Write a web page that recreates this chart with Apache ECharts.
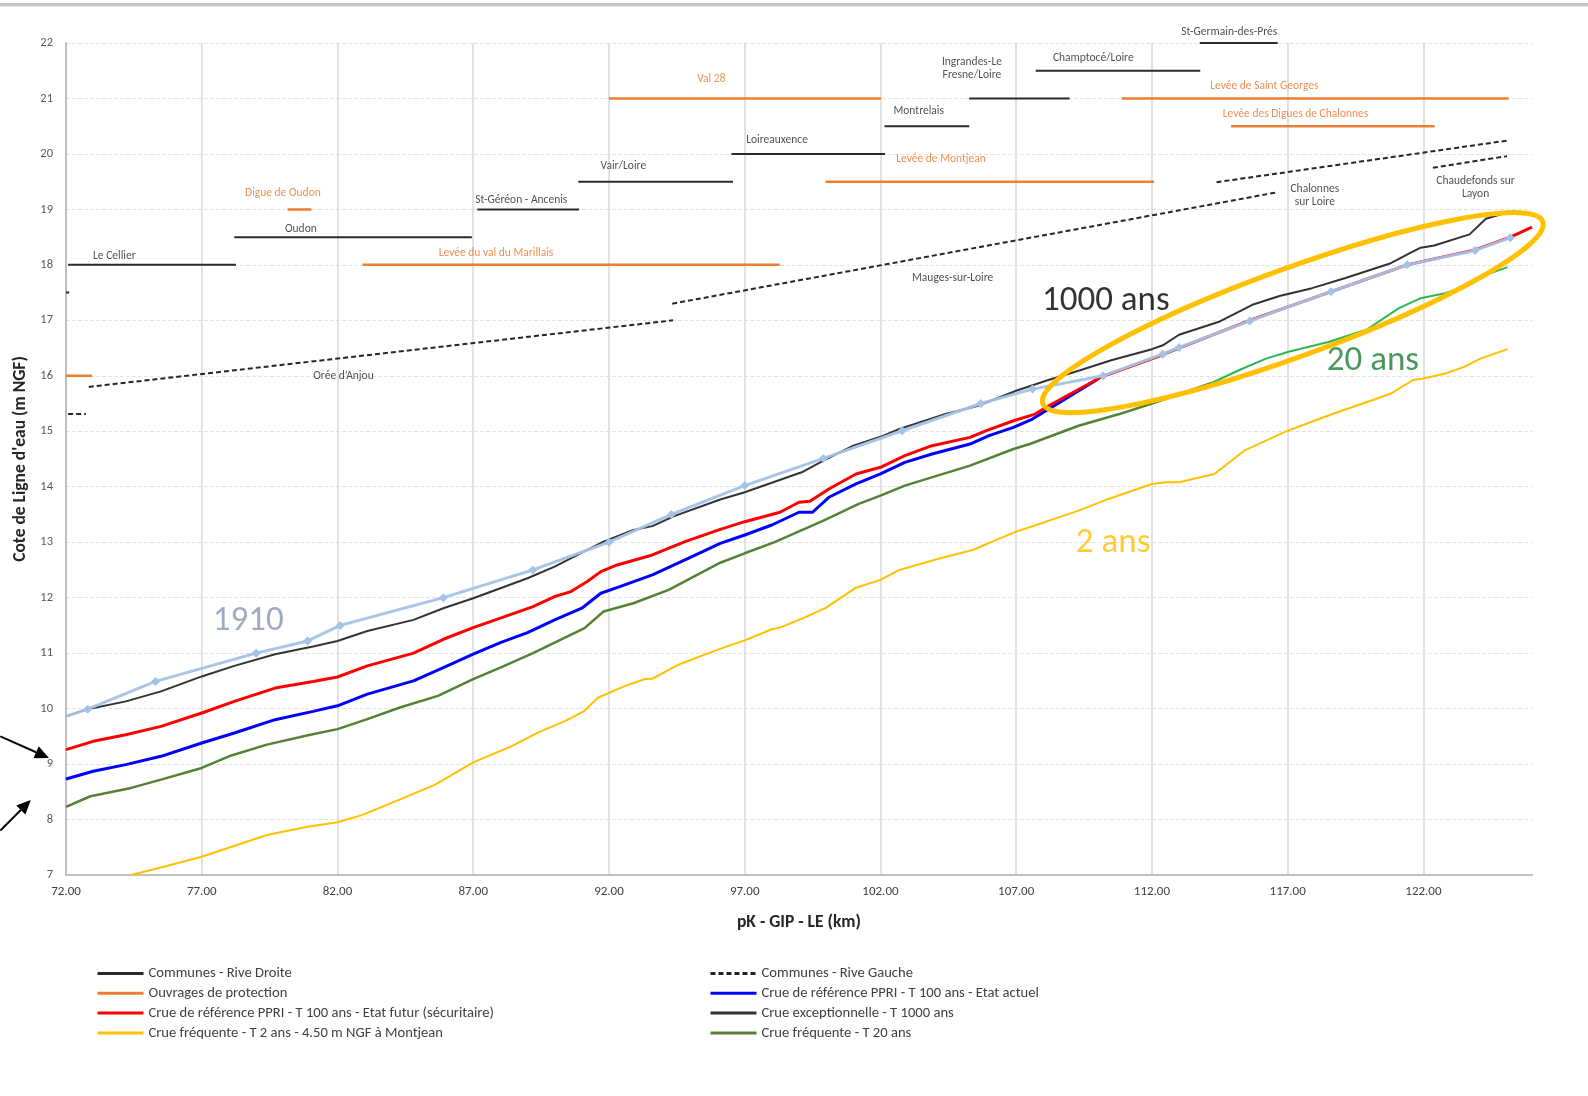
<!DOCTYPE html>
<html><head><meta charset="utf-8">
<script src="https://cdn.jsdelivr.net/npm/echarts@6/dist/echarts.min.js"></script>
<style>html,body{margin:0;padding:0;background:#fff}#c{width:1588px;height:1096px}</style>
</head><body><div id="c"></div>
<script>
const FONT = "Carlito, Lato, 'Open Sans', sans-serif";

// ---------- axes ----------
const xMin = 72, xMax = 126, xStep = 5;
const yMin = 7, yMax = 22, yStep = 1;
const xTitle = "pK - GIP - LE (km)";
const yTitle = "Cote de Ligne d'eau (m NGF)";

// ---------- legend names ----------
const N_RD = "Communes - Rive Droite";
const N_RG = "Communes - Rive Gauche";
const N_OUV = "Ouvrages de protection";
const N_ACT = "Crue de référence PPRI - T 100 ans - Etat actuel";
const N_FUT = "Crue de référence PPRI - T 100 ans - Etat futur (sécuritaire)";
const N_T1000 = "Crue exceptionnelle - T 1000 ans";
const N_T2 = "Crue fréquente - T 2 ans - 4.50 m NGF à Montjean";
const N_T20 = "Crue fréquente - T 20 ans";

// ---------- water lines [km, m NGF] ----------
const t1000 = [[72.0,9.86],[72.8,9.99],[74.2,10.13],[75.5,10.31],[77.0,10.58],[78.2,10.77],[79.7,10.98],[81.1,11.12],[82.0,11.22],[83.1,11.40],[84.8,11.60],[85.9,11.81],[87.0,11.99],[88.0,12.17],[89.0,12.35],[90.0,12.56],[91.2,12.86],[91.8,13.01],[92.9,13.22],[93.6,13.29],[94.4,13.47],[96.1,13.77],[97.0,13.90],[99.1,14.26],[99.9,14.47],[101.0,14.74],[102.0,14.90],[102.7,15.04],[104.4,15.31],[105.6,15.46],[107.0,15.73],[108.1,15.91],[109.3,16.09],[110.5,16.28],[112.0,16.48],[112.4,16.55],[113.0,16.74],[114.5,16.98],[115.7,17.28],[116.7,17.44],[117.9,17.58],[119.1,17.76],[120.8,18.03],[121.5,18.21],[121.9,18.31],[122.4,18.35],[123.7,18.55],[124.3,18.83],[125.1,18.95]];
const t100Futur = [[72.0,9.26],[73.0,9.41],[74.2,9.53],[75.5,9.68],[77.0,9.92],[78.2,10.13],[79.7,10.37],[81.1,10.49],[82.0,10.57],[83.1,10.77],[84.8,11.00],[85.9,11.25],[87.0,11.46],[88.0,11.63],[89.2,11.84],[90.0,12.02],[90.6,12.11],[91.2,12.29],[91.7,12.47],[92.3,12.59],[93.6,12.77],[94.8,13.01],[96.1,13.23],[97.0,13.37],[98.3,13.54],[99.0,13.72],[99.4,13.74],[100.1,13.96],[101.1,14.23],[102.0,14.35],[102.9,14.56],[103.9,14.74],[105.3,14.89],[105.9,15.01],[106.9,15.19],[107.7,15.31],[108.2,15.46],[110.1,15.97],[112.4,16.38],[113.0,16.50],[115.6,17.00],[118.5,17.50],[121.4,18.00],[123.9,18.27],[125.2,18.50],[126.0,18.68]];
const t100Actuel = [[72.0,8.73],[73.0,8.87],[74.2,8.99],[75.5,9.14],[77.0,9.38],[78.2,9.56],[79.7,9.80],[81.1,9.95],[82.0,10.05],[83.1,10.26],[84.8,10.50],[85.9,10.74],[87.0,10.98],[88.0,11.19],[89.0,11.37],[90.0,11.60],[91.0,11.81],[91.7,12.08],[92.4,12.20],[93.6,12.41],[94.8,12.68],[96.1,12.98],[97.0,13.13],[98.0,13.31],[99.0,13.54],[99.5,13.54],[100.1,13.81],[101.1,14.05],[102.0,14.23],[102.9,14.44],[103.9,14.59],[105.3,14.77],[106.0,14.92],[106.9,15.07],[107.6,15.22],[108.1,15.37],[110.0,15.94]];
const t20 = [[72.0,8.23],[72.9,8.42],[74.4,8.57],[75.5,8.72],[77.0,8.93],[78.0,9.14],[79.4,9.35],[81.0,9.53],[82.0,9.63],[83.1,9.81],[84.3,10.02],[85.7,10.23],[87.0,10.53],[88.0,10.74],[89.2,11.00],[90.0,11.19],[91.1,11.45],[91.8,11.75],[92.9,11.90],[94.2,12.14],[96.1,12.63],[97.0,12.80],[98.1,13.00],[99.9,13.39],[101.2,13.69],[102.0,13.84],[102.9,14.02],[105.3,14.38],[106.9,14.68],[107.5,14.77],[109.3,15.10],[110.8,15.31],[112.0,15.50],[114.2,15.87]];
const t20Aval = [[114.2,15.87],[115.2,16.10],[116.2,16.31],[117.0,16.43],[118.5,16.61],[119.9,16.83],[121.1,17.22],[121.9,17.40],[122.8,17.49],[123.7,17.64],[124.3,17.82],[125.1,17.96]];
const t2 = [[74.4,7.00],[75.6,7.15],[77.0,7.33],[78.1,7.51],[79.4,7.72],[80.9,7.87],[82.0,7.95],[82.9,8.08],[84.0,8.30],[85.6,8.63],[87.0,9.03],[88.4,9.32],[89.4,9.57],[90.4,9.78],[91.1,9.96],[91.6,10.20],[92.6,10.41],[93.3,10.53],[93.6,10.54],[94.6,10.80],[95.4,10.95],[96.4,11.13],[97.0,11.23],[98.0,11.43],[98.3,11.46],[99.2,11.64],[100.0,11.82],[101.1,12.18],[102.0,12.32],[102.7,12.50],[104.2,12.71],[105.4,12.86],[106.4,13.07],[107.0,13.19],[108.1,13.37],[109.3,13.57],[110.4,13.78],[112.0,14.05],[112.5,14.08],[113.0,14.08],[114.3,14.23],[115.4,14.65],[117.0,15.01],[118.7,15.32],[120.3,15.59],[120.8,15.68],[121.6,15.92],[122.0,15.95],[122.8,16.04],[123.5,16.16],[124.1,16.31],[125.1,16.48]];
const crue1910 = [[72.0,9.86],[72.8,9.99],[75.3,10.49],[79.0,11.00],[80.9,11.22],[82.1,11.50],[85.9,12.00],[89.2,12.50],[92.0,13.00],[94.3,13.50],[97.0,14.02],[99.9,14.51],[102.8,15.01],[105.7,15.50],[107.6,15.76],[110.2,16.00],[112.4,16.39],[113.0,16.51],[115.6,16.99],[118.6,17.52],[121.4,18.00],[123.9,18.26],[125.2,18.49]];

// ---------- horizontal segments [kmStart, kmEnd, level] ----------
const rdSegments = [[72.0,72.12,17.5],[72.08,78.26,18.0],[78.2,86.95,18.5],[87.15,90.9,19.0],[90.87,96.57,19.5],[96.51,102.17,20.0],[102.15,105.27,20.5],[105.27,108.97,21.0],[107.72,113.78,21.5],[113.76,116.63,22.0]];
const ouvSegments = [[72.0,72.96,16.0],[80.16,81.04,19.0],[82.92,98.29,18.0],[92.0,102.02,21.0],[99.98,112.08,19.5],[110.89,125.14,21.0],[114.91,122.41,20.5]];
// rive gauche sloped dashes [[km, z], [km, z]]
const rgSegments = [[[72.08,15.31],[72.73,15.31]],[[72.84,15.80],[94.36,17.00]],[[94.33,17.30],[116.63,19.31]],[[114.38,19.49],[125.08,20.24]],[[122.35,19.75],[125.08,19.96]]];

// ---------- place labels [km, z, text] ----------
const communeLabels = [[73.78,18.16,"Le Cellier"],[80.65,18.65,"Oudon"],[88.77,19.16,"St-Géréon - Ancenis"],[92.53,19.78,"Vair/Loire"],[98.19,20.24,"Loireauxence"],[103.41,20.78,"Montrelais"],[105.37,21.54,"Ingrandes-Le\nFresne/Loire"],[109.84,21.73,"Champtocé/Loire"],[114.85,22.19,"St-Germain-des-Prés"],[82.22,16.0,"Orée d’Anjou"],[104.66,17.76,"Mauges-sur-Loire"],[118.0,19.24,"Chalonnes\nsur Loire"],[123.92,19.39,"Chaudefonds sur\nLayon"]];
const ouvrageLabels = [[79.99,19.3,"Digue de Oudon"],[87.84,18.22,"Levée du val du Marillais"],[95.77,21.34,"Val 28"],[104.23,19.9,"Levée de Montjean"],[116.14,21.22,"Levée de Saint Georges"],[117.29,20.71,"Levée des Digues de Chalonnes"]];
const bigLabels = [[78.71,11.58,"1910"],[110.3,17.34,"1000 ans"],[120.14,16.27,"20 ans"],[110.57,12.98,"2 ans"]];
const bigLabelColors = ["#8497b0","#000000","#1b7d34","#ffc000"];

// ---------- builders ----------
function segData(list){ const o=[]; list.forEach(s=>{o.push([s[0],s[2]],[s[1],s[2]],[s[1],'-']);}); return o; }
function lineData(list){ const o=[]; list.forEach(s=>{o.push(s[0],s[1],[s[1][0],'-']);}); return o; }
function labelData(list){ return list.map(l=>({value:[l[0],l[1]], name:l[2]})); }

const chart = echarts.init(document.getElementById('c'), null, {renderer:'canvas'});
const lbl = (color,size)=>({show:true, position:'inside', formatter:'{b}', color:color, fontSize:size, fontFamily:FONT, lineHeight:Math.round(size*1.15)});
const legendBase = {orient:'vertical', top:966, padding:0, itemGap:4.8, itemWidth:46, itemHeight:14,
  itemStyle:{opacity:0, borderWidth:0},
  lineStyle:{width:3},
  textStyle:{fontFamily:FONT, fontSize:14.6, color:'#404040', lineHeight:15}};

const option = {
  animation:false,
  backgroundColor:'#ffffff',
  grid:{left:66, right:56, top:43, bottom:221, containLabel:false},
  xAxis:{type:'value', min:xMin, max:xMax, interval:xStep,
    name:xTitle, nameLocation:'middle', nameGap:39,
    nameTextStyle:{fontFamily:FONT, fontSize:17.5, fontWeight:'bold', color:'#262626'},
    axisLine:{show:true, lineStyle:{color:'#bfbfbf', width:2}},
    axisTick:{show:false},
    axisLabel:{formatter:v=>v.toFixed(2), fontFamily:FONT, fontSize:13, color:'#404040', margin:10, showMaxLabel:false},
    splitLine:{show:true, showMaxLine:false, lineStyle:{color:'#d9d9d9', width:1.5}}},
  yAxis:{type:'value', min:yMin, max:yMax, interval:yStep,
    name:yTitle, nameLocation:'middle', nameGap:36, nameRotate:90,
    nameTextStyle:{fontFamily:FONT, fontSize:17.5, fontWeight:'bold', color:'#262626'},
    axisLine:{show:true, lineStyle:{color:'#bfbfbf', width:2}},
    axisTick:{show:false},
    axisLabel:{fontFamily:FONT, fontSize:12.5, color:'#595959', margin:13},
    splitLine:{show:true, lineStyle:{color:'#e3e3e3', width:1, type:[4,2]}}},
  legend:[
    Object.assign({left:96, data:[N_RD, N_OUV, N_FUT, N_T2]}, legendBase),
    Object.assign({left:709, data:[N_RG, N_ACT, N_T1000, N_T20]}, legendBase)
  ],
  series:[
    {name:N_RG, type:'line', data:lineData(rgSegments), symbol:'none', clip:false,
     lineStyle:{color:'#262626', width:2, type:[5,3]}, itemStyle:{color:'#262626'}},
    {name:N_RD, type:'line', data:segData(rdSegments), symbol:'none', clip:false,
     lineStyle:{color:'#2b2b2b', width:2}, itemStyle:{color:'#2b2b2b'}},
    {name:N_OUV, type:'line', data:segData(ouvSegments), symbol:'none', clip:false,
     lineStyle:{color:'#ed7d31', width:2.5}, itemStyle:{color:'#ed7d31'}},
    {name:N_T2, type:'line', data:t2, symbol:'none',
     lineStyle:{color:'#ffc000', width:2}, itemStyle:{color:'#ffc000'}},
    {name:N_T20, type:'line', data:t20, symbol:'none',
     lineStyle:{color:'#548235', width:2.5}, itemStyle:{color:'#548235'}},
    {name:'T20 aval', type:'line', data:t20Aval, symbol:'none',
     lineStyle:{color:'#2fb550', width:2}, itemStyle:{color:'#2fb550'}},
    {name:N_ACT, type:'line', data:t100Actuel, symbol:'none',
     lineStyle:{color:'#0000ff', width:3}, itemStyle:{color:'#0000ff'}},
    {name:N_FUT, type:'line', data:t100Futur, symbol:'none',
     lineStyle:{color:'#ff0000', width:3}, itemStyle:{color:'#ff0000'}},
    {name:N_T1000, type:'line', data:t1000, symbol:'none',
     lineStyle:{color:'#333333', width:2}, itemStyle:{color:'#333333'}},
    {name:'1910', type:'line', data:crue1910.map((p,i)=> i===0 ? {value:p, symbol:'none'} : p),
     symbol:'diamond', symbolSize:9, showSymbol:true,
     lineStyle:{color:'#a3c2e6', width:3, opacity:0.95}, itemStyle:{color:'#a3c2e6'}},
    {name:'lbl-communes', type:'scatter', data:labelData(communeLabels), symbolSize:1, clip:false,
     itemStyle:{color:'rgba(0,0,0,0)'}, label:lbl('#262626',11.5), silent:true},
    {name:'lbl-ouvrages', type:'scatter', data:labelData(ouvrageLabels), symbolSize:1, clip:false,
     itemStyle:{color:'rgba(0,0,0,0)'}, label:lbl('#e8722a',11.5), silent:true},
    {name:'lbl-big', type:'scatter', symbolSize:1, clip:false, silent:true,
     itemStyle:{color:'rgba(0,0,0,0)'},
     data:bigLabels.map((l,i)=>({value:[l[0],l[1]], name:l[2], label:{color:bigLabelColors[i]}})),
     label:{show:true, position:'inside', formatter:'{b}', fontSize:35, fontFamily:FONT}}
  ]
};
chart.setOption(option);

// ---------- annotations (ellipse, arrows, top rule) ----------
function px(p){ return chart.convertToPixel({gridIndex:0}, p); }
const ellC = px([117.19, 17.14]);
function arrow(from, to){
  const a = px(from), b = px(to);
  const dx=b[0]-a[0], dy=b[1]-a[1], L=Math.hypot(dx,dy), ux=dx/L, uy=dy/L;
  const hl=14, hw=6.5;
  const base=[b[0]-ux*hl, b[1]-uy*hl];
  return [
    {type:'line', shape:{x1:a[0], y1:a[1], x2:base[0], y2:base[1]}, style:{stroke:'#000', lineWidth:2}},
    {type:'polygon', shape:{points:[[b[0],b[1]],[base[0]-uy*hw, base[1]+ux*hw],[base[0]+uy*hw, base[1]-ux*hw]]}, style:{fill:'#000'}}
  ];
}
chart.setOption({graphic:[
  {type:'rect', shape:{x:0, y:3, width:1588, height:3.5}, style:{fill:'#c4c4c4'}},
  {type:'ellipse', x:ellC[0], y:ellC[1], rotation:20*Math.PI/180,
   shape:{cx:0, cy:0, rx:266, ry:44}, style:{fill:'none', stroke:'#ffc000', lineWidth:5}, z:100},
  ...arrow([69.58,9.50],[71.37,9.11]),
  ...arrow([69.58,7.80],[70.70,8.35])
]});
</script></body></html>
